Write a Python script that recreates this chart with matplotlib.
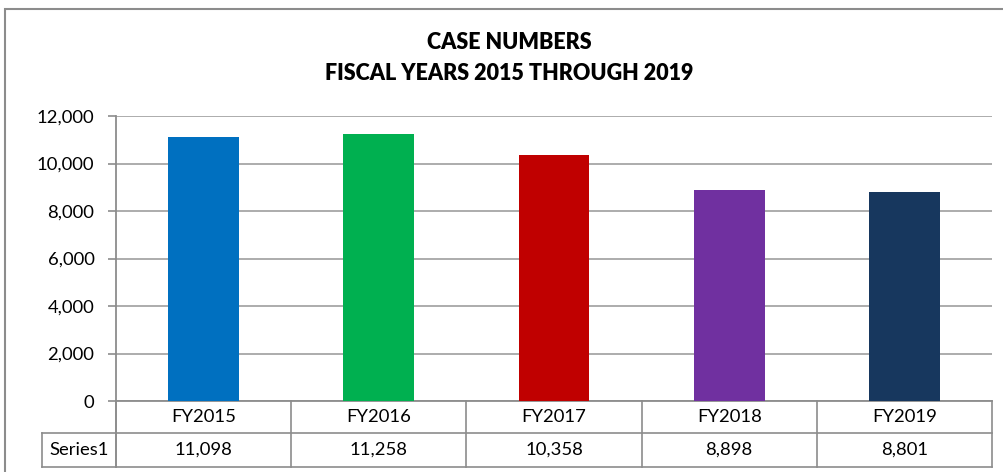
import matplotlib
matplotlib.use("Agg")
import matplotlib.pyplot as plt
from matplotlib.lines import Line2D
from matplotlib.patches import Rectangle
from matplotlib.transforms import blended_transform_factory
from matplotlib.ticker import FuncFormatter, MultipleLocator

categories = ["FY2015", "FY2016", "FY2017", "FY2018", "FY2019"]
values = [11098, 11258, 10358, 8898, 8801]
colors = ["#0070C0", "#00B050", "#C00000", "#7030A0", "#17375E"]
series_name = "Series1"
title = "CASE NUMBERS\nFISCAL YEARS 2015 THROUGH 2019"

plt.rcParams['font.family'] = ['Lato', 'DejaVu Sans']

W, H = 1004, 472
fig = plt.figure(figsize=(W / 100, H / 100), dpi=100)

def fx(px):
    return px / W

def fy(py):
    return 1 - py / H

grid_c = "#A6A6A6"
line_c = "#8C8C8C"
fs = 13.3

# outer chart frame
fig.add_artist(Rectangle((fx(5), fy(480)), fx(1010) - fx(5), fy(9) - fy(480),
                         transform=fig.transFigure, fill=False,
                         edgecolor=line_c, linewidth=1.5))

L, R, T, B = 116, 992, 116, 401
ax = fig.add_axes([fx(L), fy(B), fx(R) - fx(L), fy(T) - fy(B)])
x = list(range(len(categories)))
ax.bar(x, values, width=0.405, color=colors, zorder=3)
ax.set_xlim(-0.5, len(categories) - 0.5)
ax.set_ylim(0, 12000)
ax.yaxis.set_major_locator(MultipleLocator(2000))
ax.yaxis.set_major_formatter(FuncFormatter(lambda v, p: f"{int(v):,}"))
ax.grid(axis="y", color=grid_c, linewidth=1.3, zorder=0)
for s in ["top", "right"]:
    ax.spines[s].set_visible(False)
ax.spines["left"].set_color(line_c)
ax.spines["left"].set_linewidth(1.3)
ax.spines["bottom"].set_color(line_c)
ax.spines["bottom"].set_linewidth(1.3)
ax.set_xticks([])
ax.tick_params(axis="y", length=5.5, width=1.2, color=line_c, pad=10,
               labelsize=fs, labelcolor="black")

# data table
row1, row2 = 433, 467
left_lbl = 42
tcol = dict(color=line_c, linewidth=1.2, transform=fig.transFigure)
fig.add_artist(Line2D([fx(L), fx(L)], [fy(B), fy(row2)], **tcol))
cw = (R - L) / len(categories)
for k in range(len(categories) + 1):
    xx = L + cw * k
    fig.add_artist(Line2D([fx(xx), fx(xx)], [fy(B), fy(row2)], **tcol))
fig.add_artist(Line2D([fx(left_lbl), fx(left_lbl)], [fy(row1), fy(row2)], **tcol))
fig.add_artist(Line2D([fx(left_lbl), fx(R)], [fy(row1), fy(row1)], **tcol))
fig.add_artist(Line2D([fx(left_lbl), fx(R)], [fy(row2), fy(row2)], **tcol))

bt = blended_transform_factory(ax.transData, fig.transFigure)
for i, (c, v) in enumerate(zip(categories, values)):
    ax.text(i, fy((B + row1) / 2), c, transform=bt, ha="center", va="center",
            fontsize=fs, clip_on=False)
    ax.text(i, fy((row1 + row2) / 2), f"{v:,}", transform=bt, ha="center",
            va="center", fontsize=fs, clip_on=False)
fig.text(fx((left_lbl + L) / 2), fy((row1 + row2) / 2), series_name,
         ha="center", va="center", fontsize=fs)

fig.text(fx(509), fy(58), title, ha="center", va="center", fontsize=15.5,
         fontweight="heavy", linespacing=1.6)

fig.savefig("out.png", dpi=100)
